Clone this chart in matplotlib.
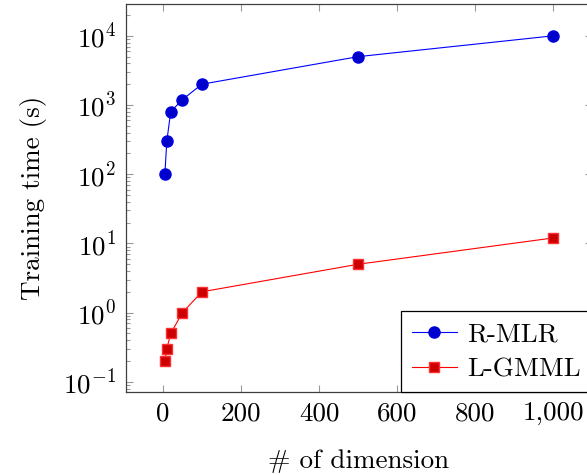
import matplotlib
matplotlib.use("Agg")
import matplotlib.pyplot as plt
from matplotlib.ticker import FuncFormatter, LogLocator, MultipleLocator

plt.rcParams['font.family'] = ['cmr10']
plt.rcParams['mathtext.fontset'] = 'cm'
plt.rcParams['axes.formatter.use_mathtext'] = True
plt.rcParams['font.size'] = 19.5

dims = [5, 10, 20, 50, 100, 500, 1000]
rmlr = [100, 300, 800, 1200, 2000, 5000, 10000]
lgmml = [0.2, 0.3, 0.5, 1, 2, 5, 12]

fig = plt.figure(figsize=(5.87, 4.75), dpi=100)
ax = fig.add_axes([0.2147, 0.175, 0.7938, 0.8166])

ax.plot(dims, rmlr, color='blue', lw=0.8, marker='o', ms=8,
        mfc='#0000cc', mec='#0000e0', label='R-MLR')
ax.plot(dims, lgmml, color='red', lw=0.8, marker='s', ms=7,
        mfc='#cc0000', mec='#ff3030', label='L-GMML')

ax.set_yscale('log')
ax.set_xlim(-94.5, 1099.5)
ax.set_ylim(10 ** -1.145, 10 ** 4.46)
ax.xaxis.set_major_locator(MultipleLocator(200))
ax.xaxis.set_major_formatter(FuncFormatter(lambda v, p: f"{v:,.0f}"))
ax.yaxis.set_major_locator(LogLocator(base=10, numticks=20))
ax.yaxis.set_minor_locator(LogLocator(base=10, subs=range(2, 10), numticks=20))

ax.tick_params(which='both', direction='in', top=True, right=True,
               color='#999999', width=0.8)
ax.tick_params(which='major', length=5, labelsize=19.5, pad=7)
ax.tick_params(which='minor', length=3)
for s in ax.spines.values():
    s.set_color('#404040')
    s.set_linewidth(0.9)

ax.set_xlabel('# of dimension', fontsize=19.5, labelpad=17)
ax.set_ylabel('Training time (s)', fontsize=19.5, labelpad=12)

leg = ax.legend(loc='lower right', borderaxespad=0, fancybox=False,
                edgecolor='black', framealpha=1, handlelength=1.65,
                fontsize=19.5, borderpad=0.4, labelspacing=0.4,
                handletextpad=0.4)
leg.get_frame().set_linewidth(0.9)

fig.savefig('out.png', dpi=100)
